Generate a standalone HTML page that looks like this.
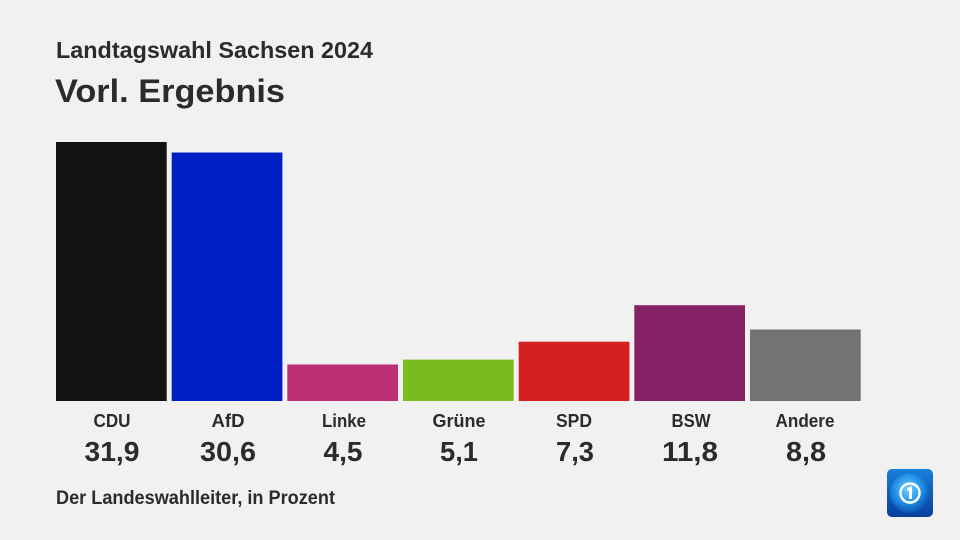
<!DOCTYPE html>
<html><head><meta charset="utf-8"><style>
html,body{margin:0;padding:0;background:#f1f1f1;}
svg{display:block;}
text{font-family:"Liberation Sans",sans-serif;fill:#2b2b2b;font-weight:bold;}
</style></head><body>
<svg width="960" height="540" viewBox="0 0 960 540" xmlns="http://www.w3.org/2000/svg">
<rect width="960" height="540" fill="#f1f1f1"/>
<text x="56" y="58" font-size="23" textLength="317" lengthAdjust="spacingAndGlyphs">Landtagswahl Sachsen 2024</text>
<text x="55" y="102" font-size="32" textLength="230" lengthAdjust="spacingAndGlyphs">Vorl. Ergebnis</text>

<rect x="56" y="142" width="110.7" height="259" fill="#121212"/>
<rect x="171.7" y="152.5" width="110.7" height="248.5" fill="#0020c4"/>
<rect x="287.3" y="364.5" width="110.7" height="36.5" fill="#bd3076"/>
<rect x="403" y="359.6" width="110.7" height="41.4" fill="#79bc1e"/>
<rect x="518.7" y="341.7" width="110.7" height="59.3" fill="#d61f1f"/>
<rect x="634.3" y="305.2" width="110.7" height="95.8" fill="#862165"/>
<rect x="750" y="329.5" width="110.7" height="71.5" fill="#737374"/>

<g font-size="18" text-anchor="middle">
<text x="112" y="427" textLength="37" lengthAdjust="spacingAndGlyphs">CDU</text>
<text x="228" y="427" textLength="33" lengthAdjust="spacingAndGlyphs">AfD</text>
<text x="344" y="427" textLength="44" lengthAdjust="spacingAndGlyphs">Linke</text>
<text x="459" y="427" textLength="53" lengthAdjust="spacingAndGlyphs">Grüne</text>
<text x="574" y="427" textLength="36" lengthAdjust="spacingAndGlyphs">SPD</text>
<text x="691" y="427" textLength="39" lengthAdjust="spacingAndGlyphs">BSW</text>
<text x="805" y="427" textLength="59" lengthAdjust="spacingAndGlyphs">Andere</text>
</g>
<g font-size="28" text-anchor="middle">
<text x="112" y="461" textLength="55" lengthAdjust="spacingAndGlyphs">31,9</text>
<text x="228" y="461" textLength="56" lengthAdjust="spacingAndGlyphs">30,6</text>
<text x="343" y="461" textLength="39" lengthAdjust="spacingAndGlyphs">4,5</text>
<text x="459" y="461" textLength="38" lengthAdjust="spacingAndGlyphs">5,1</text>
<text x="575" y="461" textLength="38" lengthAdjust="spacingAndGlyphs">7,3</text>
<text x="690" y="461" textLength="56" lengthAdjust="spacingAndGlyphs">11,8</text>
<text x="806" y="461" textLength="40" lengthAdjust="spacingAndGlyphs">8,8</text>
</g>
<text x="56" y="504" font-size="19" textLength="279" lengthAdjust="spacingAndGlyphs">Der Landeswahlleiter, in Prozent</text>

<defs>
<linearGradient id="lg" x1="0" y1="0" x2="0" y2="1">
<stop offset="0" stop-color="#1a7fdc"/>
<stop offset="1" stop-color="#083e9c"/>
</linearGradient>
<radialGradient id="rg" cx="0.45" cy="0.4" r="0.6">
<stop offset="0" stop-color="#6fd0ff"/>
<stop offset="0.6" stop-color="#1f8ee6"/>
<stop offset="1" stop-color="#0b52b0"/>
</radialGradient>
</defs>
<rect x="887" y="469" width="46" height="48" rx="5" fill="url(#lg)"/>
<circle cx="910" cy="493" r="20" fill="url(#rg)"/>
<circle cx="910" cy="493" r="9.5" fill="none" stroke="#fff" stroke-width="2.4"/>
<path d="M907 488 L912 486 L912 499 L909 499 L909 490 L907 491 Z" fill="#fff"/>
</svg>
</body></html>
